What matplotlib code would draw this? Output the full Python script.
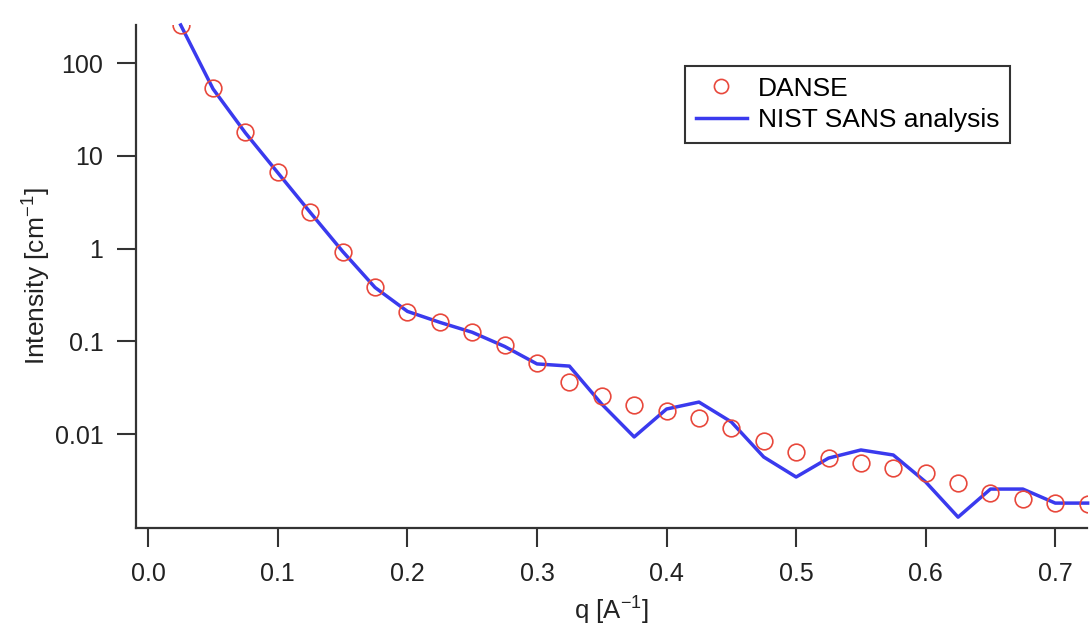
import matplotlib
matplotlib.use("Agg")
import matplotlib.pyplot as plt

q = [0.025, 0.05, 0.075, 0.1, 0.125, 0.15, 0.175, 0.2, 0.225, 0.25,
     0.275, 0.3, 0.325, 0.35, 0.375, 0.4, 0.425, 0.45, 0.475, 0.5,
     0.525, 0.55, 0.575, 0.6, 0.625, 0.65, 0.675, 0.7, 0.725]

danse = [257, 53.7, 18.0, 6.68, 2.47, 0.917, 0.385, 0.208, 0.161, 0.126,
         0.0912, 0.0583, 0.0364, 0.0257, 0.0206, 0.0177, 0.0149, 0.0116, 0.00841, 0.0064,
         0.00545, 0.00487, 0.0043, 0.0038, 0.00296, 0.00231, 0.00199, 0.0018, 0.00176]

nist = [257, 52.5, 17.6, 6.55, 2.45, 0.93, 0.38, 0.21, 0.16, 0.125,
        0.088, 0.057, 0.054, 0.021, 0.0093, 0.0186, 0.0221, 0.0135, 0.00565, 0.00344,
        0.0055, 0.00673, 0.00594, 0.00304, 0.00127, 0.00255, 0.00255, 0.0018, 0.0018]

xticks = [0.0, 0.1, 0.2, 0.3, 0.4, 0.5, 0.6, 0.7]
xticklabels = ["0.0", "0.1", "0.2", "0.3", "0.4", "0.5", "0.6", "0.7"]
yticks = [100, 10, 1, 0.1, 0.01]
yticklabels = ["100", "10", "1", "0.1", "0.01"]

plt.rcParams['font.family'] = ['Liberation Sans', 'DejaVu Sans']

fig = plt.figure(figsize=(10.92, 6.28), dpi=100)
ax = fig.add_axes([136/1092, 1-528/628, (1087-136)/1092, (528-25)/628])

ax.plot(q, nist, color="#3a3aee", lw=2.5, label="NIST SANS analysis", zorder=2, clip_on=False)
ax.plot(q, danse, ls="none", marker="o", ms=12, mfc="none", mec="#e8483c", mew=1.2,
        label="DANSE", zorder=3, clip_on=True)

ax.set_yscale("log")
ax.set_xlim(-0.0095, 0.7245)
ax.set_ylim(0.00097, 257)

ax.set_xticks(xticks)
ax.set_xticklabels(xticklabels)
ax.set_yticks(yticks)
ax.set_yticklabels(yticklabels)
ax.minorticks_off()

for s in ["top", "right"]:
    ax.spines[s].set_visible(False)
for s in ["left", "bottom"]:
    ax.spines[s].set_color("#333333")
    ax.spines[s].set_linewidth(1.6)

ax.tick_params(axis="both", direction="out", length=13.5, width=1.5, color="#333333",
               labelsize=18, labelcolor="#222222")
ax.tick_params(axis="y", pad=10)
ax.tick_params(axis="x", pad=11)

ax.set_ylabel("Intensity [cm$^{\\mathregular{-1}}$]", fontsize=19, color="#222222", labelpad=2)
ax.set_xlabel("q [A$^{\\mathregular{-1}}$]", fontsize=18.5, color="#222222", labelpad=5)

handles, labels = ax.get_legend_handles_labels()
order = [1, 0]
leg = ax.legend([handles[i] for i in order], [labels[i] for i in order],
                loc="upper left", bbox_to_anchor=((685-136)/951, 1-(66-25)/503),
                fontsize=19, frameon=True, fancybox=False, edgecolor="black",
                handlelength=1.95, handletextpad=0.42, borderpad=0.4, labelspacing=0.3,
                markerscale=0.85, borderaxespad=0)
leg.get_frame().set_linewidth(1.5)

fig.savefig("out.png", dpi=100)
